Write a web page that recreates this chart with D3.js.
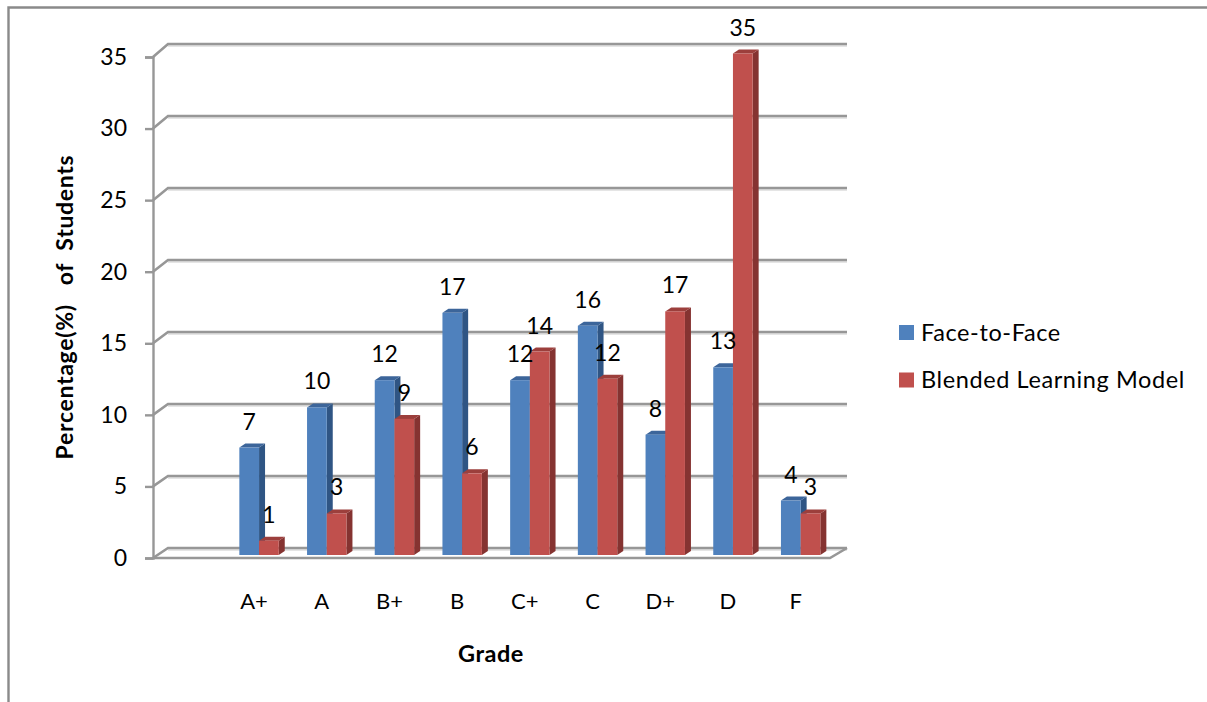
<!DOCTYPE html>
<html><head><meta charset="utf-8">
<script src="https://cdn.jsdelivr.net/npm/d3@7/dist/d3.min.js"></script>
<style>
html,body{margin:0;padding:0;background:#fff;overflow:hidden}
svg{display:block}
text{font-family:Lato,"Open Sans",sans-serif;fill:#000}
</style></head><body>
<svg id="c" width="1207" height="702"></svg>
<script>
const categories = ["", "A+", "A", "B+", "B", "C+", "C", "D+", "D", "F"];
const faceToFace = [null, 7.5, 10.3, 12.2, 16.9, 12.2, 16, 8.4, 13.1, 3.8];
const blended = [null, 1, 2.9, 9.5, 5.7, 14.2, 12.3, 17, 35, 2.9];
const faceLabels = ["", "7", "10", "12", "17", "12", "16", "8", "13", "4"];
const blendedLabels = ["", "1", "3", "9", "6", "14", "12", "17", "35", "3"];
const yTicks = [0, 5, 10, 15, 20, 25, 30, 35];
const seriesNames = ["Face-to-Face", "Blended Learning Model"];

const svg = d3.select("#c");
const GRID = "#979797";
const x = d3.scaleBand().domain(categories).range([157.5, 834.5]);
const yFront = d3.scaleLinear().domain([0, 35]).range([558, 57]);
const yBack = d3.scaleLinear().domain([0, 35]).range([548, 44]);
const yBar = d3.scaleLinear().domain([0, 35]).range([555, 53.5]);

// outer frame
svg.append("path").attr("d", "M8.5,702V7.5H1207").attr("fill", "none").attr("stroke", "#8a8a8a").attr("stroke-width", 2.4);

// walls
const g = svg.append("g");
yTicks.forEach(t => {
  g.append("path").attr("fill", "none").attr("stroke", "#dcdcdc").attr("stroke-width", 1.5)
   .attr("d", `M168,${yBack(t) + 2}H847`);
  g.append("path").attr("fill", "none").attr("stroke", GRID).attr("stroke-width", 2.6)
   .attr("d", `M153,${yFront(t)}L168,${yBack(t)}H847`);
});
g.append("path").attr("fill", "none").attr("stroke", GRID).attr("stroke-width", 2.6)
 .attr("d", `M153,${yFront(0)}H830L847,${yBack(0)}`);

// axes
const axisY = d3.axisLeft(yFront).tickValues(yTicks).tickSize(8).tickPadding(18);
const ay = svg.append("g").attr("transform", "translate(153,0)").call(axisY);
ay.selectAll("path,line").attr("stroke", GRID).attr("stroke-width", 2.4);
ay.selectAll("text").attr("font-size", 23).attr("font-family", "Lato");
const axisX = d3.axisBottom(x).tickSize(0).tickPadding(0);
const ax = svg.append("g").attr("transform", "translate(-5,609)").call(axisX);
ax.select("path").remove();
ax.selectAll("text").attr("font-size", 22).attr("font-family", "Lato").attr("y", 0).attr("dy", 0);

// 3-D bars
const barW = x.bandwidth() * 0.291, dx = 6, dy = 4;
const palette = [
  {front: "#4f81bd", side: "#2f5584", top: "#3c659a"},
  {front: "#c0504d", side: "#853331", top: "#9c3f3c"}
];
function bar(sel, i, vals) {
  const p = palette[i];
  categories.forEach((c, k) => {
    const v = vals[k];
    if (v === null) return;
    const x0 = x(c) + x.bandwidth() / 2 - (i === 0 ? barW : 0), x1 = x0 + barW;
    const yt = yBar(v), yb = yBar(0);
    sel.append("path").attr("fill", p.side).attr("d", `M${x1},${yt}L${x1 + dx},${yt - dy}V${yb - dy}L${x1},${yb}Z`);
    sel.append("path").attr("fill", p.top).attr("d", `M${x0},${yt}L${x0 + dx},${yt - dy}H${x1 + dx}L${x1},${yt}Z`);
    sel.append("rect").attr("fill", p.front).attr("x", x0).attr("y", yt).attr("width", barW).attr("height", yb - yt);
  });
}
const barsG = svg.append("g");
bar(barsG, 0, faceToFace);
bar(barsG, 1, blended);

// data labels
function labels(i, vals, texts) {
  svg.append("g").selectAll("text").data(categories.filter(c => c !== "")).join("text")
    .attr("font-size", 23).attr("text-anchor", "middle")
    .attr("x", c => x(c) + x.bandwidth() / 2 + (i === 0 ? -barW / 2 : barW / 2))
    .attr("y", c => yBar(vals[categories.indexOf(c)]) - 18)
    .text(c => texts[categories.indexOf(c)]);
}
labels(0, faceToFace, faceLabels);
labels(1, blended, blendedLabels);

// titles
svg.append("text").attr("transform", "translate(73,307) rotate(-90)").attr("text-anchor", "middle")
   .attr("font-size", 23).attr("font-weight", 700).attr("letter-spacing", 0.7).style("white-space", "pre").text("Percentage(%)   of  Students");
svg.append("text").attr("x", 491).attr("y", 662).attr("text-anchor", "middle")
   .attr("font-size", 23.5).attr("font-weight", 700).attr("letter-spacing", 0.5).text("Grade");

// legend
const legendY = d3.scalePoint().domain(seriesNames).range([332.5, 380]);
const leg = svg.append("g").selectAll("g").data(seriesNames).join("g")
   .attr("transform", d => `translate(899,${legendY(d)})`);
leg.append("rect").attr("y", -7.5).attr("width", 15).attr("height", 15).attr("fill", (d, i) => palette[i].front);
leg.append("text").attr("x", 22).attr("y", 8).attr("font-size", 23.5).attr("letter-spacing", 0.6).text(d => d);
</script>
</body></html>
